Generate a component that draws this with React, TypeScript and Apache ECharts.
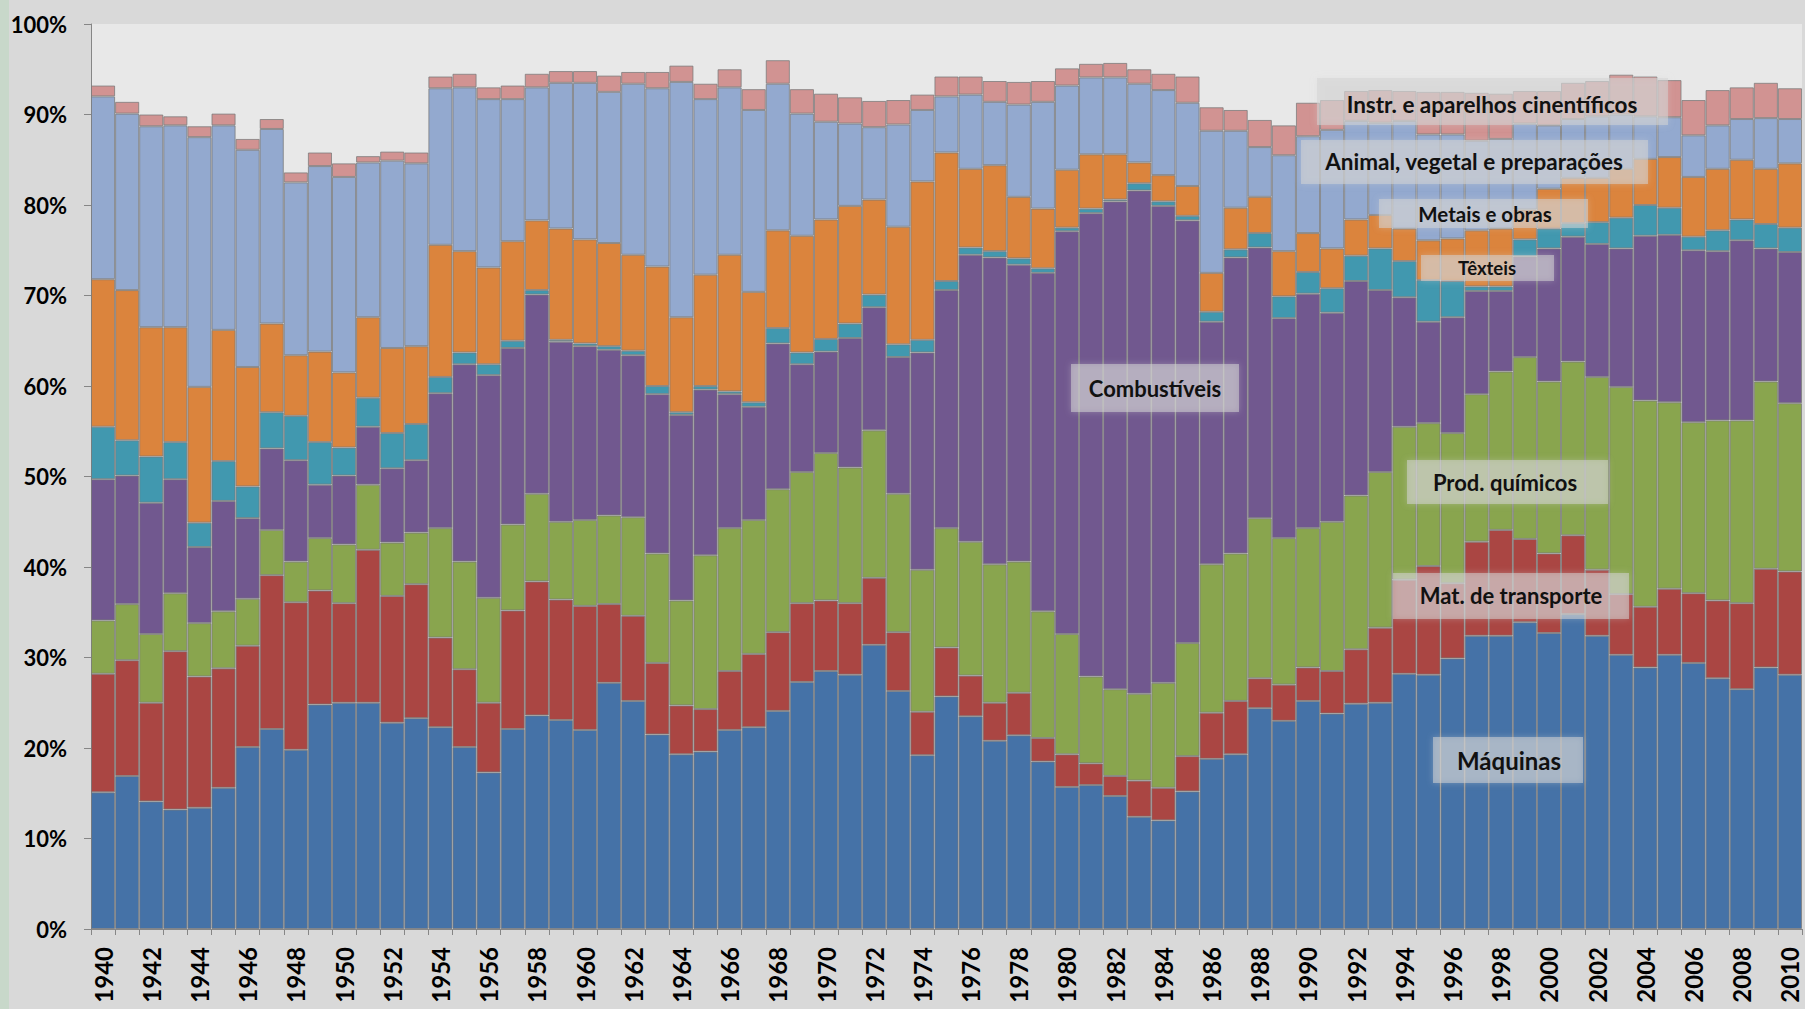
import React, { useEffect, useRef } from "react";
import * as echarts from "echarts";

const years = [
  "1940","1941","1942","1943","1944","1945","1946","1947","1948","1949",
  "1950","1951","1952","1953","1954","1955","1956","1957","1958","1959",
  "1960","1961","1962","1963","1964","1965","1966","1967","1968","1969",
  "1970","1971","1972","1973","1974","1975","1976","1977","1978","1979",
  "1980","1981","1982","1983","1984","1985","1986","1987","1988","1989",
  "1990","1991","1992","1993","1994","1995","1996","1997","1998","1999",
  "2000","2001","2002","2003","2004","2005","2006","2007","2008","2009","2010",
];

// Cumulative top (in %) of each stacked layer
const topMaquinas = [
  15.1, 16.9, 14.1, 13.2, 13.4, 15.6, 20.1, 22.1, 19.8, 24.8,
  25.0, 25.0, 22.8, 23.3, 22.3, 20.1, 17.3, 22.1, 23.6, 23.1,
  22.0, 27.2, 25.2, 21.5, 19.3, 19.6, 22.0, 22.3, 24.1, 27.3,
  28.5, 28.1, 31.4, 26.3, 19.2, 25.7, 23.5, 20.8, 21.4, 18.5,
  15.7, 15.9, 14.7, 12.4, 12.0, 15.2, 18.8, 19.3, 24.4, 23.0,
  25.2, 23.8, 24.9, 25.0, 28.2, 28.1, 29.9, 32.4, 32.4, 33.9,
  32.7, 34.8, 32.4, 30.3, 28.9, 30.3, 29.4, 27.7, 26.5, 28.9, 28.1,
];
const topTransporte = [
  28.2, 29.7, 25.0, 30.7, 27.9, 28.8, 31.3, 39.1, 36.1, 37.4,
  36.0, 41.9, 36.8, 38.1, 32.2, 28.7, 25.0, 35.2, 38.4, 36.4,
  35.7, 35.9, 34.6, 29.4, 24.7, 24.3, 28.5, 30.4, 32.8, 36.0,
  36.3, 36.0, 38.8, 32.8, 24.0, 31.1, 28.0, 25.0, 26.1, 21.1,
  19.3, 18.3, 16.9, 16.4, 15.6, 19.1, 23.9, 25.2, 27.7, 27.0,
  28.9, 28.5, 30.9, 33.3, 38.6, 40.1, 38.2, 42.8, 44.1, 43.1,
  41.5, 43.5, 39.7, 37.0, 35.6, 37.6, 37.1, 36.3, 36.0, 39.8, 39.5,
];
const topQuimicos = [
  34.1, 35.9, 32.6, 37.1, 33.8, 35.1, 36.5, 44.1, 40.6, 43.2,
  42.5, 49.1, 42.7, 43.8, 44.3, 40.6, 36.6, 44.7, 48.1, 45.0,
  45.2, 45.7, 45.5, 41.5, 36.3, 41.3, 44.3, 45.2, 48.6, 50.5,
  52.6, 51.0, 55.1, 48.1, 39.7, 44.3, 42.8, 40.3, 40.6, 35.1,
  32.6, 27.9, 26.5, 26.0, 27.2, 31.6, 40.3, 41.5, 45.4, 43.2,
  44.3, 45.0, 47.9, 50.5, 55.5, 55.9, 54.8, 59.1, 61.6, 63.2,
  60.5, 62.7, 61.0, 59.9, 58.4, 58.2, 56.0, 56.2, 56.2, 60.5, 58.1,
];
const topCombustiveis = [
  49.7, 50.1, 47.1, 49.7, 42.2, 47.3, 45.4, 53.1, 51.8, 49.1,
  50.1, 55.5, 50.9, 51.8, 59.2, 62.4, 61.2, 64.2, 70.1, 64.9,
  64.4, 64.0, 63.4, 59.1, 56.8, 59.6, 59.1, 57.7, 64.7, 62.4,
  63.8, 65.3, 68.7, 63.2, 63.7, 70.6, 74.5, 74.2, 73.4, 72.5,
  77.1, 79.1, 80.4, 81.6, 79.9, 78.3, 67.1, 74.2, 75.3, 67.5,
  70.2, 68.1, 71.6, 70.6, 69.8, 67.1, 67.6, 70.5, 70.5, 74.3,
  75.2, 76.5, 75.7, 75.2, 76.6, 76.7, 75.0, 74.9, 76.1, 75.2, 74.8,
];
const topTexteis = [
  55.5, 54.0, 52.2, 53.8, 44.9, 51.7, 48.9, 57.1, 56.7, 53.8,
  53.2, 58.7, 54.8, 55.8, 61.0, 63.7, 62.4, 65.0, 70.6, 65.1,
  64.7, 64.4, 63.9, 60.0, 57.1, 60.0, 59.4, 58.2, 66.4, 63.7,
  65.2, 66.9, 70.1, 64.6, 65.1, 71.6, 75.3, 74.9, 74.1, 73.0,
  77.5, 79.6, 80.6, 82.4, 80.4, 78.8, 68.2, 75.1, 76.9, 69.9,
  72.6, 70.8, 74.4, 75.2, 73.8, 71.7, 71.6, 71.0, 71.0, 76.2,
  77.4, 78.0, 78.1, 78.6, 80.0, 79.7, 76.5, 77.2, 78.4, 77.9, 77.5,
];
const topMetais = [
  71.8, 70.6, 66.5, 66.5, 59.9, 66.2, 62.1, 66.9, 63.4, 63.8,
  61.5, 67.6, 64.2, 64.4, 75.6, 74.9, 73.1, 76.0, 78.3, 77.4,
  76.2, 75.8, 74.5, 73.2, 67.6, 72.3, 74.5, 70.4, 77.2, 76.6,
  78.4, 79.9, 80.6, 77.6, 82.6, 85.8, 84.0, 84.4, 80.9, 79.6,
  83.9, 85.6, 85.6, 84.7, 83.3, 82.1, 72.5, 79.7, 80.9, 74.9,
  76.9, 75.2, 78.4, 78.9, 77.4, 76.1, 76.3, 77.2, 77.4, 79.5,
  81.8, 83.0, 83.0, 84.0, 85.1, 85.3, 83.1, 84.0, 85.0, 84.0, 84.6,
];
const topAnimal = [
  92.0, 90.1, 88.7, 88.8, 87.5, 88.8, 86.1, 88.4, 82.5, 84.3,
  83.1, 84.7, 84.9, 84.6, 92.9, 93.0, 91.7, 91.7, 93.0, 93.5,
  93.5, 92.5, 93.4, 92.9, 93.6, 91.7, 93.0, 90.5, 93.4, 90.1,
  89.2, 89.0, 88.6, 88.9, 90.5, 92.0, 92.2, 91.4, 91.1, 91.4,
  93.2, 94.1, 94.1, 93.4, 92.7, 91.3, 88.2, 88.2, 86.4, 85.5,
  87.6, 88.3, 89.3, 89.1, 89.3, 87.8, 87.8, 87.1, 87.3, 89.0,
  88.8, 89.5, 89.8, 90.0, 89.8, 89.7, 87.7, 88.8, 89.5, 89.6, 89.5,
];
const topInstr = [
  93.2, 91.4, 90.0, 89.8, 88.7, 90.1, 87.3, 89.5, 83.6, 85.8,
  84.6, 85.4, 85.9, 85.8, 94.2, 94.5, 93.0, 93.2, 94.5, 94.8,
  94.8, 94.3, 94.7, 94.7, 95.4, 93.4, 95.0, 92.8, 96.0, 92.8,
  92.3, 91.9, 91.5, 91.6, 92.2, 94.2, 94.2, 93.7, 93.6, 93.7,
  95.1, 95.6, 95.7, 95.0, 94.5, 94.2, 90.8, 90.5, 89.4, 88.8,
  91.3, 91.6, 92.6, 92.7, 92.6, 92.5, 92.5, 92.4, 92.3, 92.6,
  92.6, 93.5, 93.7, 94.4, 94.2, 93.8, 91.6, 92.7, 93.0, 93.5, 92.9,
];

const yTicks = [0, 10, 20, 30, 40, 50, 60, 70, 80, 90, 100];

const layers = [
  { name: "Máquinas", color: "#4572A7", tops: topMaquinas },
  { name: "Mat. de transporte", color: "#AA4643", tops: topTransporte },
  { name: "Prod. químicos", color: "#89A54E", tops: topQuimicos },
  { name: "Combustíveis", color: "#71588F", tops: topCombustiveis },
  { name: "Têxteis", color: "#4198AF", tops: topTexteis },
  { name: "Metais e obras", color: "#DB843D", tops: topMetais },
  { name: "Animal, vegetal e preparações", color: "#93A9CF", tops: topAnimal },
  { name: "Instr. e aparelhos cinentíficos", color: "#D19392", tops: topInstr },
];

const annotations = [
  { text: "Instr. e aparelhos cinentíficos", cx: 1492, cy: 104, box: [1317, 78, 351, 47], size: 22.5 },
  { text: "Animal, vegetal e preparações", cx: 1474, cy: 161, box: [1301, 140, 347, 44], size: 22.5 },
  { text: "Metais e obras", cx: 1485, cy: 214, box: [1379, 199, 209, 29], size: 20.5 },
  { text: "Têxteis", cx: 1487, cy: 268, box: [1421, 255, 133, 26], size: 18.5 },
  { text: "Combustíveis", cx: 1155, cy: 388, box: [1071, 364, 168, 48], size: 22 },
  { text: "Prod. químicos", cx: 1505, cy: 482, box: [1407, 460, 201, 44], size: 22 },
  { text: "Mat. de transporte", cx: 1511, cy: 595, box: [1393, 573, 236, 46], size: 22 },
  { text: "Máquinas", cx: 1509, cy: 760, box: [1433, 737, 150, 46], size: 24 },
];

export default function App() {
  const ref = useRef<HTMLDivElement>(null);

  useEffect(() => {
    if (!ref.current) return;
    const chart = echarts.init(ref.current, null, { renderer: "svg" });

    const series = layers.map((layer, k) => ({
      name: layer.name,
      type: "bar",
      stack: "total",
      barCategoryGap: "0%",
      data: layer.tops.map((v, i) =>
        Math.round((v - (k === 0 ? 0 : layers[k - 1].tops[i])) * 10) / 10
      ),
      itemStyle: {
        color: layer.color,
        borderColor: "rgba(120,120,120,0.75)",
        borderWidth: 1,
      },
      emphasis: { disabled: true },
    }));

    const graphic: any[] = [
      {
        type: "rect",
        shape: { x: 0, y: 0, width: 9, height: 1009 },
        style: { fill: "#c8d8ca" },
        silent: true,
      },
    ];
    annotations.forEach((a) => {
      graphic.push({
        type: "rect",
        shape: { x: a.box[0], y: a.box[1], width: a.box[2], height: a.box[3] },
        style: {
          fill: "rgba(212,212,212,0.55)",
          shadowBlur: 6,
          shadowColor: "rgba(212,212,212,0.6)",
        },
        z: 100,
        silent: true,
      });
      graphic.push({
        type: "text",
        x: a.cx,
        y: a.cy,
        style: {
          text: a.text,
          fill: "#111111",
          font: `bold ${a.size}px Lato`,
          align: "center",
          verticalAlign: "middle",
        },
        z: 101,
        silent: true,
      });
    });

    chart.setOption({
      animation: false,
      backgroundColor: "#d9d9d9",
      grid: {
        left: 91,
        top: 24,
        right: 3,
        bottom: 80,
        show: true,
        backgroundColor: "#e8e8e8",
        borderWidth: 0,
        containLabel: false,
      },
      xAxis: {
        type: "category",
        data: years,
        boundaryGap: true,
        axisLine: { show: true, lineStyle: { color: "#868686", width: 1 } },
        axisTick: {
          show: true,
          interval: 0,
          alignWithLabel: false,
          length: 6,
          lineStyle: { color: "#868686" },
        },
        axisLabel: {
          interval: 1,
          rotate: 90,
          margin: 18,
          color: "#000",
          fontFamily: "Lato",
          fontWeight: "bold",
          fontSize: 24,
          lineHeight: 20,
        },
        splitLine: { show: false },
      },
      yAxis: {
        type: "value",
        min: yTicks[0],
        max: yTicks[yTicks.length - 1],
        interval: 10,
        axisLine: { show: true, lineStyle: { color: "#868686", width: 1 } },
        axisTick: { show: true, length: 7, lineStyle: { color: "#868686" } },
        axisLabel: {
          formatter: "{value}%",
          margin: 24,
          color: "#000",
          fontFamily: "Lato",
          fontWeight: "bold",
          fontSize: 22,
        },
        splitLine: { show: false },
      },
      series,
      graphic,
    } as any);

    return () => chart.dispose();
  }, []);

  return (
    <div
      ref={ref}
      style={{ position: "fixed", left: 0, top: 0, width: 1805, height: 1009 }}
    />
  );
}
